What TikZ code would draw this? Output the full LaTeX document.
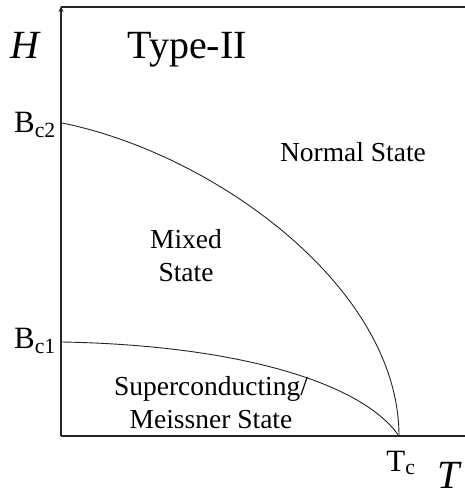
\documentclass[tikz,border=0pt]{standalone}
\usepackage{fontspec}
\setmainfont{Liberation Serif}
\usetikzlibrary{arrows.meta}
\tikzset{
  axisline/.style={draw=black!85, line width=1.3pt},
  curveline/.style={draw=black!85, line width=0.9pt},
  biglab/.style={inner sep=0pt, font=\fontsize{40}{40}\selectfont},
  axlab/.style={inner sep=0pt, font=\fontsize{40}{40}\selectfont\itshape},
  critlab/.style={inner sep=0pt, font=\fontsize{31}{31}\selectfont},
  statelab/.style={inner sep=0pt, align=center, font=\fontsize{27.5}{33}\selectfont},
}
\begin{document}
\begin{tikzpicture}[x=1pt,y=-1pt]
\useasboundingbox (0,0) rectangle (465,496);
\fill[white] (0,0) rectangle (465,496);
% axes
\coordinate (O) at (61,436);
\coordinate (Ytop) at (61,6);
\coordinate (Xend) at (465,436);
\coordinate (TopR) at (465,7);
\coordinate (Tc) at (399,436);
\coordinate (B2) at (62,123);
\coordinate (B1) at (62,342);
\draw[axisline] (O) -- (Xend);
\draw[axisline,-{Stealth[length=6pt,width=5pt]}] (O) -- (Ytop);
\draw[axisline] (61,7) -- (TopR);
% curves
\draw[curveline] (B2) .. controls (212,153) and (399,286) .. (Tc);
\draw[curveline] (B1) .. controls (230,345) and (360,380) .. (Tc);
% labels
\node[axlab] (H) at (25,45) {H};
\node[axlab] (T) at (449,475) {T};
\node[biglab] (type) at (187,50) {Type-II};
\node[critlab,anchor=east] (lb2) at (56,125) {B\textsubscript{c2}};
\node[critlab,anchor=east] (lb1) at (56,341) {B\textsubscript{c1}};
\node[critlab] (ltc) at (401,463) {T\textsubscript{c}};
\node[statelab] (normal) at (353,152) {Normal State};
\node[statelab] (mixed) at (186,256) {Mixed\\State};
\node[statelab] (sc) at (211,403) {Superconducting/\\Meissner State};
\end{tikzpicture}
\end{document}
